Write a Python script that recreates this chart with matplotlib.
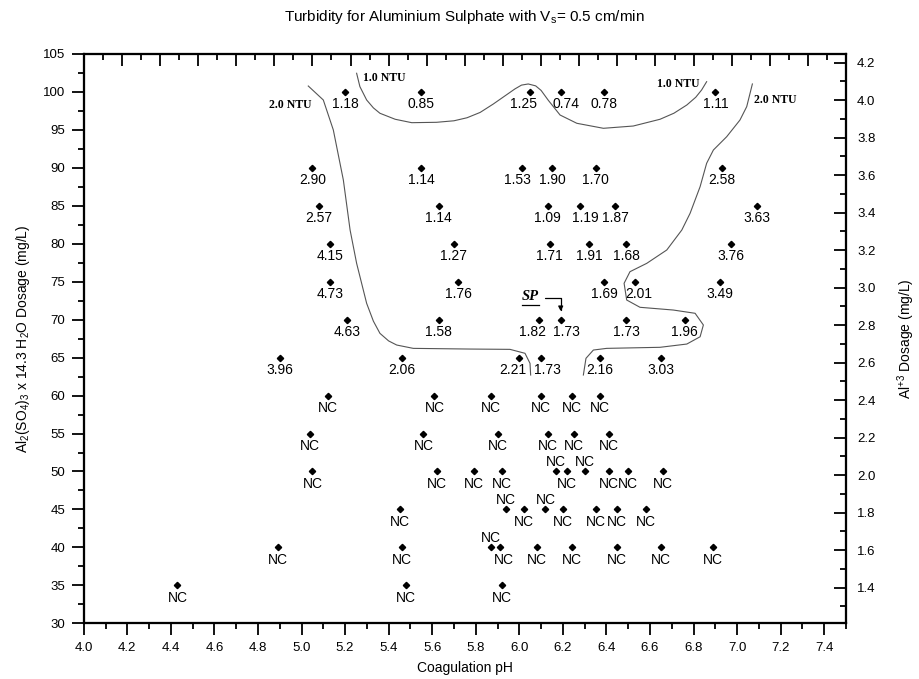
import numpy as np
import matplotlib
matplotlib.use("Agg")
import matplotlib.pyplot as plt
from matplotlib.ticker import MultipleLocator

plt.rcParams['font.family'] = ['Liberation Sans', 'DejaVu Sans']
plt.rcParams['mathtext.default'] = 'regular'

# measured points: coagulation pH, alum dosage (mg/L), residual turbidity (NTU) or NC
ph_100 = [5.20, 5.55, 6.05, 6.19, 6.39, 6.90]
lab_100 = ['1.18', '0.85', '1.25', '0.74', '0.78', '1.11']
ph_90 = [5.05, 5.55, 6.01, 6.15, 6.35, 6.93]
lab_90 = ['2.90', '1.14', '1.53', '1.90', '1.70', '2.58']
ph_85 = [5.08, 5.63, 6.13, 6.28, 6.44, 7.09]
lab_85 = ['2.57', '1.14', '1.09', '1.19', '1.87', '3.63']
ph_80 = [5.13, 5.70, 6.14, 6.32, 6.49, 6.97]
lab_80 = ['4.15', '1.27', '1.71', '1.91', '1.68', '3.76']
ph_75 = [5.13, 5.72, 6.39, 6.53, 6.92]
lab_75 = ['4.73', '1.76', '1.69', '2.01', '3.49']
ph_70 = [5.21, 5.63, 6.09, 6.19, 6.49, 6.76]
lab_70 = ['4.63', '1.58', '1.82', '1.73', '1.73', '1.96']
ph_65 = [4.90, 5.46, 6.00, 6.10, 6.37, 6.65]
lab_65 = ['3.96', '2.06', '2.21', '1.73', '2.16', '3.03']
ph_60 = [5.12, 5.61, 5.87, 6.10, 6.24, 6.37]
ph_55 = [5.04, 5.56, 5.90, 6.13, 6.25, 6.41]
ph_50 = [5.05, 5.62, 5.79, 5.92, 6.17, 6.22, 6.30, 6.41, 6.50, 6.66]
ph_45 = [5.45, 5.94, 6.02, 6.12, 6.20, 6.35, 6.45, 6.58]
ph_40 = [4.89, 5.46, 5.87, 5.91, 6.08, 6.24, 6.45, 6.65, 6.89]
ph_35 = [4.43, 5.48, 5.92]

# (dosage, pH list, labels)
rows = [
    (100, ph_100, lab_100), (90, ph_90, lab_90), (85, ph_85, lab_85),
    (80, ph_80, lab_80), (75, ph_75, lab_75), (70, ph_70, lab_70),
    (65, ph_65, lab_65), (60, ph_60, None), (55, ph_55, None),
    (50, ph_50, None), (45, ph_45, None), (40, ph_40, None), (35, ph_35, None),
]
# NC labels that sit above their point (dosage, pH)
labels_above = [(50, 6.17), (50, 6.30), (45, 5.94), (45, 6.12), (40, 5.87)]
# small sideways shifts of crowded labels (points)
label_shift = {(100, 6.05): -5, (100, 6.19): 3.5, (90, 6.01): -3, (85, 6.28): 3.5,
               (75, 6.53): 3, (70, 6.09): -4.5, (70, 6.19): 4, (65, 6.00): -4.5,
               (65, 6.10): 4.5, (40, 5.91): 3}

# iso-turbidity curves (pH, dosage)
ntu1_ph = [5.253, 5.268, 5.299, 5.330, 5.360, 5.430, 5.506, 5.620, 5.700, 5.760,
           5.820, 5.880, 5.930, 5.980, 6.010, 6.041, 6.075, 6.100, 6.133, 6.187,
           6.264, 6.386, 6.523, 6.646, 6.710, 6.769, 6.810, 6.837, 6.860]
ntu1_dose = [102.46, 100.7, 98.94, 97.9, 97.19, 96.40, 95.95, 96.0, 96.2, 96.6,
             97.3, 98.4, 99.4, 100.4, 100.9, 101.05, 100.8, 100.2, 98.9, 96.96,
             95.87, 95.21, 95.51, 96.40, 97.2, 98.28, 99.3, 100.26, 101.35]
ntu2a_ph = [5.031, 5.100, 5.146, 5.192, 5.223, 5.253, 5.299, 5.330, 5.360, 5.400,
            5.437, 5.513, 5.774, 5.957, 6.026, 6.049, 6.052]
ntu2a_dose = [100.78, 98.94, 94.99, 88.40, 81.81, 77.42, 72.15, 69.8, 68.20, 67.2,
              66.66, 66.22, 66.13, 66.09, 65.57, 64.25, 62.71]
ntu2b_ph = [7.070, 7.044, 7.013, 6.952, 6.891, 6.860, 6.830, 6.784, 6.746, 6.677,
            6.585, 6.508, 6.481, 6.493, 6.554, 6.707, 6.807, 6.845, 6.830, 6.769,
            6.646, 6.401, 6.340, 6.306, 6.294]
ntu2b_dose = [101.05, 98.06, 96.30, 94.10, 92.35, 90.60, 87.52, 84.01, 81.81, 79.18,
              77.42, 76.32, 74.79, 72.59, 71.63, 71.27, 70.84, 69.30, 67.75, 66.79,
              66.36, 66.22, 66.00, 64.91, 62.71]

fig = plt.figure(figsize=(9.19, 6.79), dpi=100)
ax = fig.add_axes([0.0911, 0.0820, 0.8295, 0.8385])

for dose, phs, labs in rows:
    ax.plot(phs, [dose] * len(phs), linestyle='none', marker='D',
            markersize=3.2, color='black')
    for i, p in enumerate(phs):
        txt = labs[i] if labs else 'NC'
        up = (dose, p) in labels_above
        dx = label_shift.get((dose, p), 0)
        ax.annotate(txt, (p, dose), xytext=(dx, 7 if up else -9),
                    textcoords='offset points', ha='center', va='center',
                    fontsize=10)

for cx, cy in [(ntu1_ph, ntu1_dose), (ntu2a_ph, ntu2a_dose), (ntu2b_ph, ntu2b_dose)]:
    ax.plot(cx, cy, color='#555555', linewidth=0.8)

ntu_font = dict(family='Liberation Serif', fontweight='bold', fontsize=8.5,
                ha='center', va='center')
ax.text(5.38, 101.8, '1.0 NTU', **ntu_font)
ax.text(4.947, 98.3, '2.0 NTU', **ntu_font)
ax.text(6.73, 101.1, '1.0 NTU', **ntu_font)
ax.text(7.174, 98.9, '2.0 NTU', **ntu_font)

# SP marker
ax.text(6.049, 73.0, 'SP', family='Liberation Serif', fontweight='bold',
        fontstyle='italic', fontsize=10.5, ha='center', va='center')
ax.plot([6.01, 6.09], [71.95, 71.95], color='black', linewidth=0.9)
ax.annotate('', xy=(6.19, 71.1), xytext=(6.118, 72.8),
            arrowprops=dict(arrowstyle='-|>', color='black', lw=0.9,
                            mutation_scale=7, shrinkA=0, shrinkB=0,
                            connectionstyle='angle,angleA=0,angleB=90,rad=0'))

ax.set_xlim(4.0, 7.5)
ax.set_ylim(30, 105)
ax.xaxis.set_minor_locator(MultipleLocator(0.1))
ax.yaxis.set_major_locator(MultipleLocator(5))
ax.yaxis.set_minor_locator(MultipleLocator(2.5))
ax.set_xticks(np.arange(4.0, 7.45, 0.2))
ax.set_xticklabels([f'{v:.1f}' for v in np.arange(4.0, 7.45, 0.2)])
ax.tick_params(which='major', direction='out', length=8.5, width=1.3, labelsize=9.5, pad=5)
ax.tick_params(which='minor', direction='out', length=4.5, width=1.3)

ax.set_xlabel('Coagulation pH', fontsize=10, labelpad=5)
ax.set_ylabel('Al$_2$(SO$_4$)$_3$ x 14.3 H$_2$O Dosage (mg/L)', fontsize=10, labelpad=8)
ax.set_title('Turbidity for Aluminium Sulphate with V$_s$= 0.5 cm/min', fontsize=11, pad=24)

axr = ax.twinx()
axr.set_ylim(1.210, 4.246)
axr.set_yticks(np.arange(1.4, 4.25, 0.2))
axr.set_yticklabels([f'{v:.1f}' for v in np.arange(1.4, 4.25, 0.2)])
axr.yaxis.set_minor_locator(MultipleLocator(0.1))
axr.tick_params(which='major', direction='in', length=8.5, width=1.3, labelsize=9.5, pad=8)
axr.tick_params(which='minor', direction='in', length=4.5, width=1.3)
axr.set_ylabel('Al$^{+3}$ Dosage (mg/L)', fontsize=10, labelpad=14)

axt = ax.twiny()
axt.set_xlim(0, 40)
axt.xaxis.set_major_locator(MultipleLocator(2))
axt.xaxis.set_minor_locator(MultipleLocator(1))
axt.tick_params(which='major', direction='in', length=8.5, width=1.3, labeltop=False)
axt.tick_params(which='minor', direction='in', length=4.5, width=1.3)

for a in (ax, axr, axt):
    for s in a.spines.values():
        s.set_linewidth(1.5)

fig.savefig('out.png', dpi=100)
